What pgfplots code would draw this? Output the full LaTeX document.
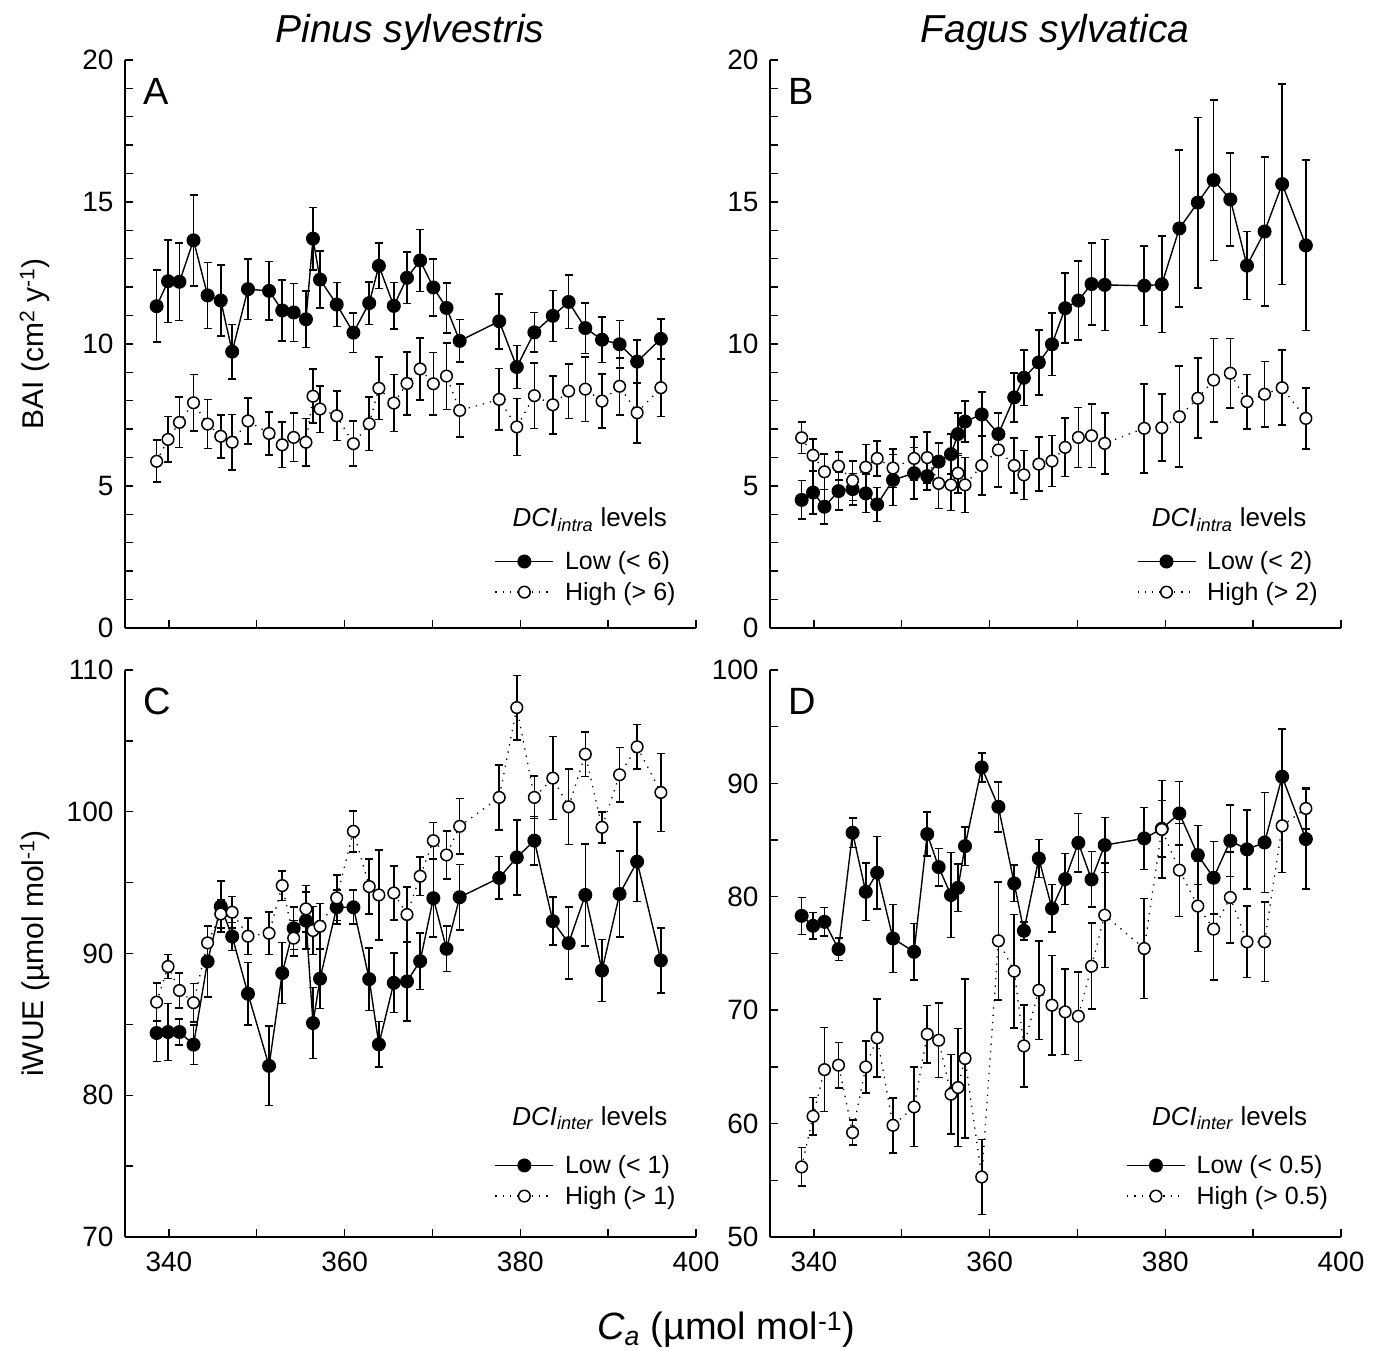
\documentclass[border=0pt]{standalone}
\usepackage{fontspec}
\setmainfont{Liberation Sans}
\usepackage{pgfplots}
\usepackage{pgfplotstable}
\pgfplotsset{compat=1.18}

% columns: CO2, low mean, low se, high mean, high se
\pgfplotstableread{
x lo loe hi hie
338.6 11.33 1.27 5.87 0.74
339.9 12.21 1.46 6.64 0.80
341.2 12.19 1.37 7.24 0.89
342.8 13.65 1.60 7.93 1.00
344.4 11.71 1.16 7.18 0.86
345.9 11.53 1.25 6.75 0.76
347.2 9.73 0.96 6.54 0.98
349.0 11.93 1.07 7.29 0.81
351.4 11.87 1.03 6.85 0.75
352.9 11.18 1.07 6.45 0.80
354.2 11.11 1.02 6.71 0.85
355.6 10.87 1.00 6.54 0.84
356.4 13.71 1.10 8.16 0.95
357.2 12.27 1.00 7.71 0.82
359.1 11.39 0.78 7.47 0.87
361.0 10.40 0.70 6.49 0.79
362.8 11.44 0.75 7.19 0.94
363.9 12.75 0.80 8.44 1.10
365.6 11.34 0.82 7.92 1.00
367.1 12.33 0.90 8.61 1.10
368.6 12.94 1.09 9.12 1.10
370.1 11.99 1.00 8.60 1.10
371.6 11.27 0.88 8.87 1.17
373.1 10.11 0.75 7.66 0.94
377.6 10.80 0.97 8.05 1.08
379.6 9.19 0.76 7.08 1.00
381.6 10.41 0.70 8.18 1.15
383.7 10.99 0.90 7.86 1.02
385.5 11.48 0.94 8.34 0.96
387.4 10.56 0.89 8.41 1.14
389.3 10.15 0.80 7.99 0.95
391.3 9.99 0.84 8.51 1.00
393.3 9.38 0.76 7.58 1.06
396.0 10.18 0.69 8.46 1.02
}\dataA

\pgfplotstableread{
x lo loe hi hie
338.6 4.51 0.68 6.70 0.55
339.9 4.77 0.75 6.08 0.57
341.2 4.27 0.60 5.50 0.62
342.8 4.82 0.67 5.70 0.49
344.4 4.89 0.55 5.19 0.70
345.9 4.74 0.68 5.66 0.80
347.2 4.35 0.60 5.97 0.62
349.0 5.21 0.90 5.63 0.68
351.4 5.45 0.90 5.97 0.76
352.9 5.35 0.50 6.00 0.90
354.2 5.86 0.66 5.09 0.88
355.6 6.12 0.70 5.04 0.90
356.4 6.83 0.75 5.45 0.70
357.2 7.27 0.72 5.04 0.97
359.1 7.52 0.78 5.72 1.04
361.0 6.83 0.72 6.27 1.30
362.8 8.12 0.86 5.72 0.97
363.9 8.81 0.98 5.39 0.86
365.6 9.35 1.15 5.77 0.95
367.1 9.99 1.10 5.88 0.90
368.6 11.26 1.23 6.36 1.03
370.1 11.53 1.40 6.71 1.06
371.6 12.11 1.45 6.77 1.12
373.1 12.08 1.60 6.50 1.08
377.6 12.05 1.40 7.03 1.57
379.6 12.10 1.70 7.05 1.18
381.6 14.07 2.76 7.44 1.78
383.7 14.98 3.00 8.09 1.41
385.5 15.77 2.83 8.73 1.47
387.4 15.09 1.63 8.97 1.22
389.3 12.76 1.20 7.97 0.96
391.3 13.96 2.62 8.23 1.15
393.3 15.63 3.53 8.46 1.32
396.0 13.47 3.00 7.38 1.08
}\dataB

\pgfplotstableread{
x lo loe hi hie
338.6 84.39 2.00 86.57 1.35
339.9 84.46 2.00 89.08 0.85
341.2 84.46 0.90 87.39 1.25
342.8 83.57 1.40 86.53 1.35
344.4 89.44 2.50 90.75 1.15
345.9 93.31 1.80 92.79 1.00
347.2 91.20 1.00 92.91 1.10
349.0 87.16 2.20 91.22 1.30
351.4 82.07 2.80 91.43 1.50
352.9 88.62 2.15 94.79 1.05
354.2 91.78 1.50 91.08 1.25
355.6 92.32 2.00 93.15 1.65
356.4 85.09 2.50 91.62 1.70
357.2 88.22 2.10 91.92 1.60
359.1 93.26 1.20 93.92 1.60
361.0 93.26 1.20 98.62 1.45
362.8 88.19 2.20 94.72 1.95
363.9 83.59 1.60 94.13 3.17
365.6 87.93 2.10 94.27 1.90
367.1 88.03 2.80 92.75 1.95
368.6 89.46 2.00 95.45 1.35
370.1 93.90 2.75 97.96 1.27
371.6 90.33 1.60 96.95 1.70
373.1 93.97 2.30 98.97 1.97
377.6 95.33 1.50 101.01 2.30
379.6 96.78 2.65 107.35 2.27
381.6 97.96 1.70 101.01 1.50
383.7 92.28 1.70 102.37 2.93
385.5 90.73 2.55 100.35 2.65
387.4 94.13 3.60 104.06 1.57
389.3 88.80 2.20 98.90 1.10
391.3 94.20 3.05 102.61 1.92
393.3 96.48 2.80 104.58 1.58
396.0 89.51 2.30 101.36 2.76
}\dataC

\pgfplotstableread{
x lo loe hi hie
338.6 78.32 1.63 56.18 1.70
339.9 77.44 1.17 60.65 1.65
341.2 77.79 1.26 64.76 3.70
342.8 75.38 1.00 65.15 2.00
344.4 85.65 1.30 59.21 1.10
345.9 80.44 2.53 65.00 2.30
347.2 82.12 3.20 67.56 3.45
349.0 76.32 3.00 59.85 2.43
351.4 75.15 2.50 61.47 3.50
352.9 85.53 1.93 67.88 2.55
354.2 82.62 1.65 67.35 3.30
355.6 80.15 3.74 62.59 3.50
356.4 80.79 2.10 63.18 5.20
357.2 84.47 1.70 65.74 7.00
359.1 91.41 1.28 55.29 3.30
361.0 87.94 2.20 76.12 5.20
362.8 81.18 1.60 73.44 5.00
363.9 77.00 0.80 66.85 3.60
365.6 83.38 1.67 71.76 4.35
367.1 78.97 2.10 70.44 4.40
368.6 81.56 2.25 69.85 3.77
370.1 84.76 2.57 69.47 3.90
371.6 81.53 2.45 73.88 3.80
373.1 84.56 2.43 78.38 4.60
377.6 85.15 2.74 75.44 4.40
379.6 86.00 2.50 85.94 4.30
381.6 87.35 2.80 82.35 4.10
383.7 83.68 2.60 79.18 4.00
385.5 81.68 3.20 77.15 4.50
387.4 84.94 3.15 79.94 4.00
389.3 84.18 3.50 76.03 3.15
391.3 84.79 4.40 76.03 3.50
393.3 90.59 4.20 86.26 4.10
396.0 85.09 4.40 87.79 1.80
}\dataD

\tikzset{
  letter/.style={anchor=north west, inner sep=0pt,
    font=\fontsize{38}{42}\selectfont},
  legtitle/.style={anchor=base, inner sep=0pt,
    font=\fontsize{26}{30}\selectfont},
}

\pgfplotsset{
  panel/.style={
    scale only axis, width=571pt, height=568pt,
    xmin=335, xmax=400,
    axis x line*=bottom, axis y line*=left,
    axis line style={line width=1.4pt, -},
    tick align=inside,
    major tick length=8pt, minor tick length=8pt,
    tick style={line width=1.4pt, black},
    xtick={340,360,380,400}, minor xtick={350,370,390},
    tick label style={font=\fontsize{28}{32}\selectfont},
    yticklabel style={xshift=-8pt},
    xticklabel style={yshift=-11pt},
    /pgf/number format/assume math mode=true,
    clip=false,
    ylabel style={at={(axis description cs:-0.158,0.5)}, anchor=center,
      font=\fontsize{30}{34}\selectfont},
    legend style={draw=none, fill=none, anchor=south east,
      font=\fontsize{25}{30}\selectfont, row sep=7pt,
      inner xsep=0pt, inner ysep=0pt,
      /tikz/every odd column/.append style={column sep=9pt}},
    legend cell align=left,
    legend image code/.code={
      \draw[mark repeat=2,mark phase=2,##1]
        plot coordinates {(0pt,0pt) (29pt,0pt) (58pt,0pt)};},
  },
  lo/.style={black, line width=1.4pt, mark=*, mark size=6.3pt,
    mark options={solid, fill=black},
    error bars/.cd, y dir=both, y explicit,
    error bar style={line width=1.6pt, solid},
    error mark options={rotate=90, mark size=4pt, line width=1.6pt}},
  hi/.style={black, line width=1.3pt, dash pattern=on 1.3pt off 6pt,
    mark=*, mark size=5.8pt,
    mark options={solid, fill=white, line width=1.5pt},
    error bars/.cd, y dir=both, y explicit,
    error bar style={line width=1.6pt, solid},
    error mark options={rotate=90, mark size=4pt, line width=1.6pt}},
}

\begin{document}
\begin{tikzpicture}
\useasboundingbox (0pt,0pt) rectangle (1381pt,1351pt);

% A
\begin{axis}[panel, at={(125pt,723pt)}, anchor=south west,
  ymin=0, ymax=20, ytick={0,5,...,20}, minor ytick={1,...,19},
  xticklabels={},
  ylabel={BAI (cm\textsuperscript{2} y\textsuperscript{-1})},
  legend style={at={(rel axis cs:0.968,0.042)}}]
  \addplot[lo] table[x=x, y=lo, y error=loe] {\dataA};
  \addlegendentry{Low (< 6)}
  \addplot[hi] table[x=x, y=hi, y error=hie] {\dataA};
  \addlegendentry{High (> 6)}
  \node[letter] at (rel axis cs:0.032,0.968) {A};
  \node[legtitle] at (rel axis cs:0.814,0.178)
    {\textit{DCI}\textsubscript{\textit{intra}} levels};
\end{axis}

% B
\begin{axis}[panel, at={(770pt,723pt)}, anchor=south west,
  ymin=0, ymax=20, ytick={0,5,...,20}, minor ytick={1,...,19},
  xticklabels={},
  legend style={at={(rel axis cs:0.963,0.042)}}]
  \addplot[lo] table[x=x, y=lo, y error=loe] {\dataB};
  \addlegendentry{Low (< 2)}
  \addplot[hi] table[x=x, y=hi, y error=hie] {\dataB};
  \addlegendentry{High (> 2)}
  \node[letter] at (rel axis cs:0.032,0.968) {B};
  \node[legtitle] at (rel axis cs:0.804,0.178)
    {\textit{DCI}\textsubscript{\textit{intra}} levels};
\end{axis}

% C
\begin{axis}[panel, at={(125pt,114pt)}, anchor=south west, height=567pt,
  ymin=70, ymax=110, ytick={70,80,...,110}, minor ytick={75,85,95,105},
  ylabel={iWUE (µmol mol\textsuperscript{-1})},
  legend style={at={(rel axis cs:0.968,0.051)}}]
  \addplot[lo] table[x=x, y=lo, y error=loe] {\dataC};
  \addlegendentry{Low (< 1)}
  \addplot[hi] table[x=x, y=hi, y error=hie] {\dataC};
  \addlegendentry{High (> 1)}
  \node[letter] at (rel axis cs:0.032,0.968) {C};
  \node[legtitle] at (rel axis cs:0.814,0.197)
    {\textit{DCI}\textsubscript{\textit{inter}} levels};
\end{axis}

% D
\begin{axis}[panel, at={(770pt,114pt)}, anchor=south west, height=567pt,
  ymin=50, ymax=100, ytick={50,60,...,100}, minor ytick={55,65,...,95},
  legend style={at={(rel axis cs:0.981,0.051)}}]
  \addplot[lo] table[x=x, y=lo, y error=loe] {\dataD};
  \addlegendentry{Low (< 0.5)}
  \addplot[hi] table[x=x, y=hi, y error=hie] {\dataD};
  \addlegendentry{High (> 0.5)}
  \node[letter] at (rel axis cs:0.032,0.968) {D};
  \node[legtitle] at (rel axis cs:0.805,0.197)
    {\textit{DCI}\textsubscript{\textit{inter}} levels};
\end{axis}

\node[anchor=base, font=\fontsize{39}{44}\selectfont\itshape] at (410pt,1308pt) {Pinus sylvestris};
\node[anchor=base, font=\fontsize{39}{44}\selectfont\itshape] at (1055pt,1308pt) {Fagus sylvatica};
\node[anchor=base, font=\fontsize{38}{42}\selectfont] at (726pt,11pt)
  {\textit{C}\textsubscript{\textit{a}} (µmol mol\textsuperscript{-1})};
\end{tikzpicture}
\end{document}
